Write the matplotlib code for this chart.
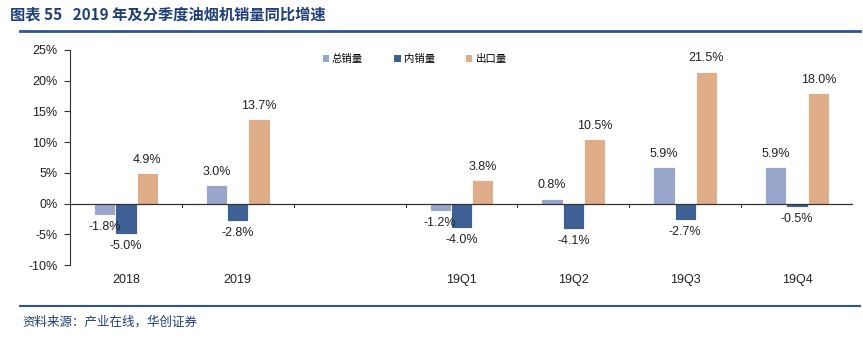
import numpy as np
import matplotlib.pyplot as plt
from matplotlib.lines import Line2D
from matplotlib.patches import Patch

plt.rcParams['font.family'] = ['Liberation Sans', 'Noto Sans CJK SC', 'DejaVu Sans']

categories = ["2018", "2019", "", "19Q1", "19Q2", "19Q3", "19Q4"]
total = [-1.8, 3.0, np.nan, -1.2, 0.8, 5.9, 5.9]
domestic = [-5.0, -2.8, np.nan, -4.0, -4.1, -2.7, -0.5]
export = [4.9, 13.7, np.nan, 3.8, 10.5, 21.5, 18.0]
series_names = ["总销量", "内销量", "出口量"]
colors = ["#98A6CB", "#3F6095", "#DFAD88"]

fig = plt.figure(figsize=(8.63, 3.38), dpi=100)
ax = fig.add_axes([70 / 863, (338 - 265) / 338, 783 / 863, 215 / 338])

x = np.arange(len(categories))
w = 0.19
for i, (vals, col) in enumerate(zip([total, domestic, export], colors)):
    pos = x + (i - 1) * w
    ax.bar(pos, vals, width=w, color=col, edgecolor="white", linewidth=0.6, zorder=2)
    for p, v in zip(pos, vals):
        if np.isnan(v):
            continue
        if v >= 0:
            ax.text(p, v + 1.2, f"{v:.1f}%", ha="center", va="bottom", fontsize=9, color="#222222")
        else:
            ax.text(p, v - 1.0, f"{v:.1f}%", ha="center", va="top", fontsize=9, color="#222222")

ax.set_xlim(-0.5, len(categories) - 0.5)
ax.set_ylim(-10, 25)
ax.set_yticks(np.arange(-10, 26, 5))
ax.set_yticklabels([f"{t}%" for t in range(-10, 26, 5)], fontsize=9, color="#222222")
ax.tick_params(axis="y", length=4, width=0.8, color="#333333", pad=5)
ax.spines["left"].set_color("#333333")
for s in ["top", "right", "bottom"]:
    ax.spines[s].set_visible(False)

ax.axhline(0, color="#333333", linewidth=0.9, zorder=3)
ax.set_xticks([])
for b in np.arange(0.5, len(categories) - 0.5, 1.0):
    ax.plot([b, b], [0, -0.6], color="#333333", linewidth=0.8, zorder=3)
for xi, lab in zip(x, categories):
    ax.text(xi, -11.5, lab, ha="center", va="top", fontsize=9, color="#222222")

handles = [Patch(facecolor=c, edgecolor="none") for c in colors]
ax.legend(handles, series_names, loc="upper center", bbox_to_anchor=(0.44, 1.025),
          ncol=3, frameon=False, handlelength=0.6, handleheight=0.6,
          columnspacing=3.0, handletextpad=0.3,
          prop={"family": ["Noto Sans CJK SC"], "size": 7.5})

# header and footer
fig.text(10 / 863, 1 - 14 / 338, "图表 55   2019 年及分季度油烟机销量同比增速", ha="left", va="center",
         fontsize=11, fontweight="bold", color="#1F3F7A", family=["Noto Sans CJK SC"])
fig.add_artist(Line2D([20 / 863, 860 / 863], [1 - 31 / 338, 1 - 31 / 338], color="#2E5597", linewidth=2))
fig.add_artist(Line2D([20 / 863, 860 / 863], [1 - 306 / 338, 1 - 306 / 338], color="#2E5597", linewidth=1.5))
fig.text(22 / 863, 1 - 322 / 338, "资料来源：产业在线，华创证券", ha="left", va="center",
         fontsize=9, style="italic", color="#1F3F7A", family=["Noto Sans CJK SC"])

fig.savefig("out.png", dpi=100)
